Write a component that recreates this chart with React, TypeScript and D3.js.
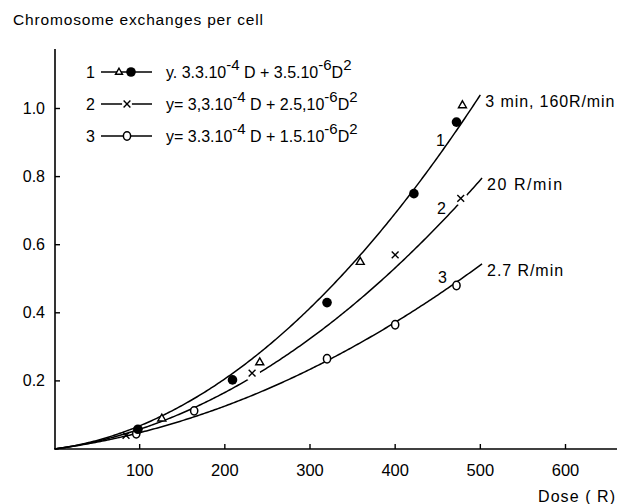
import React from 'react';
import * as d3 from 'd3';

const W = 625;
const H = 504;

const xTicks = [100, 200, 300, 400, 500, 600];
const yTicks = [0.2, 0.4, 0.6, 0.8, 1.0];
const yTickLabels = ['0.2', '0.4', '0.6', '0.8', '1.0'];

const seriesIds = ['1', '2', '3'];
const linearCoef = [3.3e-4, 3.3e-4, 3.3e-4];
const quadCoef = [3.5e-6, 2.5e-6, 1.5e-6];
const curveEnd = [500, 502, 502];
const rateLabels = ['3 min,  160R/min', '20 R/min', '2.7 R/min'];
const rateLabelWidths = [129, 75, 76];
const legendPrefix = ['y.', 'y=', 'y='];
const legendLinear = ['3.3.10', '3,3.10', '3.3.10'];
const legendQuad = ['3.5.10', '2.5,10', '1.5.10'];

// data points
const dotDose = [98, 209, 320, 422, 472];
const dotVal = [0.058, 0.203, 0.43, 0.75, 0.96];
const triDose = [126, 241, 359, 479];
const triVal = [0.09, 0.255, 0.55, 1.01];
const crossDose = [84, 232, 400, 477];
const crossVal = [0.04, 0.223, 0.57, 0.736];
const circleDose = [96, 164, 320, 400, 472];
const circleVal = [0.045, 0.112, 0.265, 0.365, 0.48];

const FONT = '"Liberation Sans", Arial, sans-serif';

const x = d3.scaleLinear().domain([0, 600]).range([54.5, 565.5]);
const y = d3.scaleLinear().domain([0, 1]).range([449, 108.5]);

function Tri({ cx, cy, s = 8 }: { cx: number; cy: number; s?: number }) {
  const h = s * 0.87;
  const p = d3.path();
  p.moveTo(cx, cy - h * 0.62);
  p.lineTo(cx + s / 2, cy + h * 0.38);
  p.lineTo(cx - s / 2, cy + h * 0.38);
  p.closePath();
  return <path d={p.toString()} fill="#fff" stroke="#000" strokeWidth={1.4} />;
}

function Cross({ cx, cy, halo = 0 }: { cx: number; cy: number; halo?: number }) {
  const r = 3.4;
  return (
    <g>
      {halo > 0 && <circle cx={cx} cy={cy} r={halo} fill="#fff" />}
      <line x1={cx - r} y1={cy - r} x2={cx + r} y2={cy + r} stroke="#000" strokeWidth={1.4} />
      <line x1={cx - r} y1={cy + r} x2={cx + r} y2={cy - r} stroke="#000" strokeWidth={1.4} />
    </g>
  );
}

function Ring({ cx, cy }: { cx: number; cy: number }) {
  return <ellipse cx={cx} cy={cy} rx={3.6} ry={4.2} fill="#fff" stroke="#000" strokeWidth={1.5} />;
}

function Dot({ cx, cy }: { cx: number; cy: number }) {
  return <circle cx={cx} cy={cy} r={4.8} fill="#000" />;
}

export default function App() {
  const curves = seriesIds.map((_, i) => {
    const doses = d3.range(0, curveEnd[i] + 0.01, 2);
    return d3
      .line<number>()
      .x((d) => x(d))
      .y((d) => y(linearCoef[i] * d + quadCoef[i] * d * d))(doses) as string;
  });

  const legendY = [72, 104, 136];
  const crossHalo = [0, 8, 0, 7];

  return (
    <svg
      width={W}
      height={H}
      style={{ position: 'absolute', left: 0, top: 0, background: '#fff' }}
      fontFamily={FONT}
    >
      <rect x={0} y={0} width={W} height={H} fill="#fff" />
      {/* title */}
      <text x={13} y={25} fontSize={15.5} fill="#000" textLength={250} lengthAdjust="spacing">
        Chromosome  exchanges per cell
      </text>

      {/* axes */}
      <line x1={55} y1={449} x2={617} y2={449} stroke="#000" strokeWidth={1.6} />
      <line x1={55} y1={449} x2={55} y2={49} stroke="#000" strokeWidth={1.6} />

      {xTicks.map((t) => (
        <g key={'xt' + t}>
          <line x1={x(t)} y1={449} x2={x(t)} y2={444} stroke="#000" strokeWidth={1.4} />
          <text x={x(t)} y={476} fontSize={16.5} textAnchor="middle" fill="#000">
            {t}
          </text>
        </g>
      ))}
      {yTicks.map((t, i) => (
        <g key={'yt' + t}>
          <line x1={55} y1={y(t)} x2={60} y2={y(t)} stroke="#000" strokeWidth={1.4} />
          <text x={45} y={y(t) + 5.5} fontSize={16} textAnchor="end" fill="#000">
            {yTickLabels[i]}
          </text>
        </g>
      ))}

      <text x={538} y={502} fontSize={16} fill="#000" textLength={77} lengthAdjust="spacing">
        Dose  ( R)
      </text>

      {/* curves */}
      {curves.map((d, i) => (
        <path key={'c' + i} d={d} fill="none" stroke="#000" strokeWidth={1.5} />
      ))}

      {/* curve labels */}
      <text x={436} y={146} fontSize={16} fill="#000">1</text>
      <text x={437} y={214} fontSize={16} fill="#000">2</text>
      <text x={438} y={283} fontSize={16} fill="#000">3</text>
      {rateLabels.map((t, i) => {
        const end = curveEnd[i];
        const v = linearCoef[i] * end + quadCoef[i] * end * end;
        return (
          <text
            key={'r' + i}
            x={x(end) + 5}
            y={y(v) + 12}
            fontSize={16}
            fill="#000"
            textLength={rateLabelWidths[i]}
            lengthAdjust="spacing"
          >
            {t}
          </text>
        );
      })}

      {/* markers */}
      {crossDose.map((d, i) => (
        <Cross key={'x' + i} cx={x(d)} cy={y(crossVal[i])} halo={crossHalo[i]} />
      ))}
      {circleDose.map((d, i) => (
        <Ring key={'o' + i} cx={x(d)} cy={y(circleVal[i])} />
      ))}
      {triDose.map((d, i) => (
        <Tri key={'t' + i} cx={x(d)} cy={y(triVal[i])} />
      ))}
      {dotDose.map((d, i) => (
        <Dot key={'d' + i} cx={x(d)} cy={y(dotVal[i])} />
      ))}

      {/* legend */}
      {seriesIds.map((id, i) => {
        const ly = legendY[i];
        return (
          <g key={'lg' + i}>
            <text x={86} y={ly + 6} fontSize={16} fill="#000">{id}</text>
            <line x1={101} y1={ly} x2={152} y2={ly} stroke="#000" strokeWidth={1.4} />
            {i === 0 && (
              <>
                <Tri cx={119} cy={ly} s={7} />
                <circle cx={131} cy={ly} r={4.8} fill="#000" />
              </>
            )}
            {i === 1 && <Cross cx={127} cy={ly} halo={5} />}
            {i === 2 && <Ring cx={127} cy={ly} />}
            <text x={166} y={ly + 6} fontSize={16} fill="#000">
              {legendPrefix[i]} {legendLinear[i]}
              <tspan dy={-8} fontSize={15}>-4</tspan>
              <tspan dy={8}> D + {legendQuad[i]}</tspan>
              <tspan dy={-8} fontSize={15}>-6</tspan>
              <tspan dy={8}>D</tspan>
              <tspan dy={-8} fontSize={15}>2</tspan>
            </text>
          </g>
        );
      })}
    </svg>
  );
}
